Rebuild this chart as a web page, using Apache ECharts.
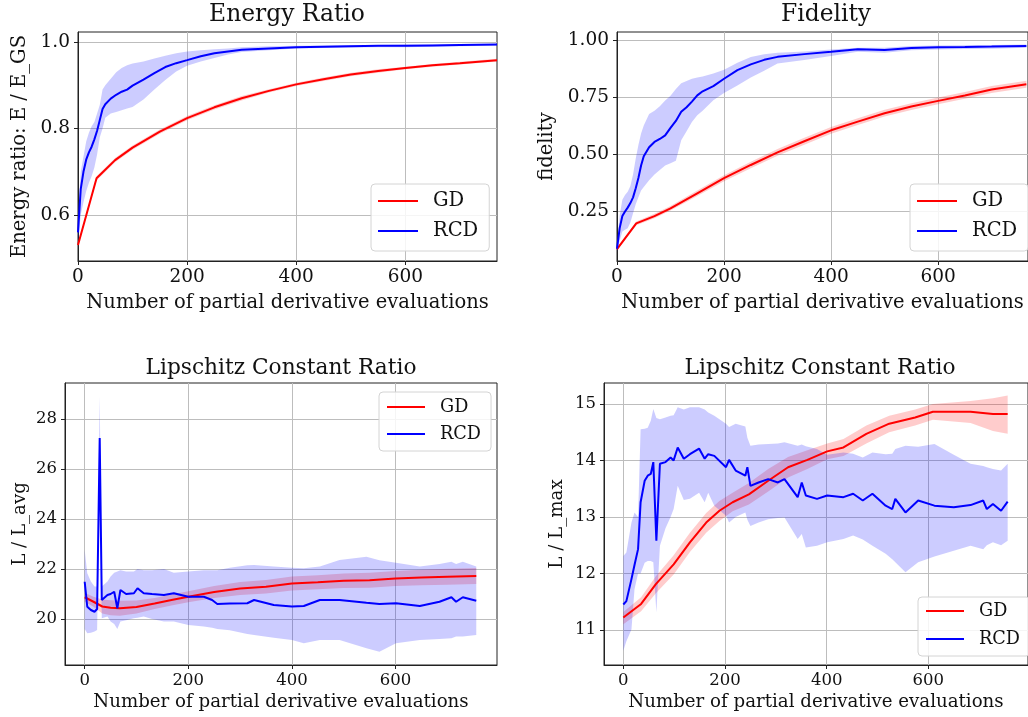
<!DOCTYPE html>
<html lang="en">
<head>
<meta charset="UTF-8">
<title>GD vs RCD</title>
<script src="https://cdn.jsdelivr.net/npm/echarts@6/dist/echarts.min.js"></script>
<style>
  html, body { margin: 0; padding: 0; background: #fff; }
  #chart { width: 1028px; height: 717px; }
</style>
</head>
<body>
<div id="chart"></div>
<script>
// ---- Energy ratio (top left)
var gdEnergyX = [0, 34, 68, 100, 150, 200, 250, 300, 350, 400, 450, 500, 550, 600, 650, 700, 768];
var gdEnergy = [0.531, 0.685, 0.727, 0.756, 0.793, 0.824, 0.849, 0.870, 0.887, 0.902, 0.914, 0.925, 0.933, 0.940, 0.946, 0.951, 0.958];
var gdEnergyErr = [0.003, 0.005, 0.005, 0.005, 0.005, 0.005, 0.005, 0.005, 0.004, 0.004, 0.004, 0.004, 0.004, 0.003, 0.003, 0.003, 0.003];

var rcdEnergyX = [0, 5, 10, 15, 20, 25, 30, 35, 40, 45, 50, 60, 70, 80, 90, 100, 120, 140, 160, 180, 200, 225, 250, 275, 300, 350, 400, 450, 500, 550, 600, 650, 700, 768];
var rcdEnergy = [0.56, 0.66, 0.70, 0.728, 0.745, 0.758, 0.775, 0.795, 0.82, 0.845, 0.856, 0.869, 0.878, 0.885, 0.890, 0.899, 0.913, 0.928, 0.942, 0.951, 0.958, 0.967, 0.974, 0.978, 0.982, 0.985, 0.988, 0.989, 0.990, 0.991, 0.991, 0.992, 0.993, 0.994];
var rcdEnergyHi = [0.60, 0.70, 0.735, 0.77, 0.79, 0.805, 0.815, 0.835, 0.855, 0.89, 0.900, 0.915, 0.930, 0.940, 0.946, 0.950, 0.955, 0.962, 0.968, 0.974, 0.978, 0.981, 0.983, 0.985, 0.988, 0.990, 0.991, 0.992, 0.993, 0.993, 0.994, 0.994, 0.995, 0.996];
var rcdEnergyLo = [0.53, 0.60, 0.63, 0.655, 0.675, 0.69, 0.71, 0.74, 0.78, 0.80, 0.825, 0.835, 0.838, 0.842, 0.846, 0.850, 0.867, 0.890, 0.912, 0.932, 0.945, 0.955, 0.963, 0.971, 0.977, 0.981, 0.985, 0.986, 0.987, 0.988, 0.988, 0.989, 0.990, 0.991];

// ---- Fidelity (top right)
var gdFidX = [0, 36, 70, 100, 150, 200, 250, 300, 350, 400, 450, 500, 550, 600, 650, 700, 765];
var gdFid = [0.083, 0.196, 0.228, 0.262, 0.328, 0.394, 0.452, 0.507, 0.556, 0.604, 0.642, 0.679, 0.708, 0.733, 0.757, 0.783, 0.806];
var gdFidErr = [0.006, 0.008, 0.01, 0.01, 0.012, 0.013, 0.014, 0.015, 0.015, 0.015, 0.015, 0.015, 0.015, 0.015, 0.015, 0.015, 0.015];

var rcdFidX = [0, 5, 10, 15, 20, 25, 30, 35, 40, 45, 50, 60, 70, 80, 90, 100, 110, 120, 130, 140, 150, 160, 180, 200, 225, 250, 275, 300, 350, 400, 450, 500, 550, 600, 650, 700, 765];
var rcdFid = [0.085, 0.175, 0.228, 0.248, 0.265, 0.285, 0.31, 0.35, 0.395, 0.45, 0.49, 0.53, 0.553, 0.566, 0.582, 0.615, 0.645, 0.685, 0.705, 0.730, 0.757, 0.775, 0.798, 0.83, 0.868, 0.893, 0.913, 0.926, 0.938, 0.948, 0.959, 0.956, 0.965, 0.968, 0.969, 0.971, 0.974];
var rcdFidHi = [0.10, 0.23, 0.30, 0.32, 0.335, 0.36, 0.41, 0.48, 0.54, 0.59, 0.625, 0.675, 0.69, 0.71, 0.735, 0.755, 0.785, 0.81, 0.82, 0.83, 0.835, 0.84, 0.853, 0.87, 0.90, 0.925, 0.937, 0.944, 0.950, 0.958, 0.966, 0.966, 0.974, 0.976, 0.977, 0.978, 0.98];
var rcdFidLo = [0.07, 0.12, 0.16, 0.168, 0.175, 0.20, 0.24, 0.28, 0.31, 0.34, 0.355, 0.385, 0.41, 0.43, 0.45, 0.46, 0.47, 0.56, 0.60, 0.64, 0.67, 0.69, 0.736, 0.768, 0.80, 0.835, 0.865, 0.897, 0.912, 0.930, 0.948, 0.944, 0.955, 0.958, 0.96, 0.962, 0.966];

// ---- L / L_avg (bottom left)
var gdAvgX = [0, 17, 34, 50, 68, 100, 135, 170, 200, 250, 300, 350, 400, 450, 500, 550, 600, 650, 700, 756];
var gdAvg = [20.87, 20.69, 20.50, 20.45, 20.43, 20.48, 20.62, 20.77, 20.89, 21.08, 21.22, 21.29, 21.42, 21.47, 21.53, 21.55, 21.62, 21.66, 21.69, 21.72];
var gdAvgErr = [0.18, 0.2, 0.28, 0.3, 0.3, 0.26, 0.22, 0.22, 0.22, 0.24, 0.26, 0.27, 0.28, 0.28, 0.29, 0.3, 0.3, 0.31, 0.32, 0.32];

var rcdAvgX = [0, 5, 12, 19, 24, 29, 33, 44, 50, 57, 63, 69, 80, 95, 102, 114, 130, 153, 172, 200, 230, 246, 256, 280, 314, 327, 365, 400, 423, 454, 492, 544, 569, 601, 647, 685, 708, 717, 730, 756];
var rcdAvg = [21.49, 20.49, 20.36, 20.29, 20.40, 27.24, 20.76, 20.96, 21.0, 21.09, 20.43, 21.16, 21.0, 21.03, 21.23, 21.03, 21.0, 20.96, 21.03, 20.89, 20.89, 20.76, 20.60, 20.62, 20.63, 20.76, 20.56, 20.50, 20.52, 20.76, 20.76, 20.65, 20.60, 20.63, 20.52, 20.69, 20.87, 20.69, 20.87, 20.73];
var rcdAvgHi = [22.76, 21.83, 21.5, 21.3, 21.3, 28.92, 21.3, 21.5, 21.7, 21.85, 21.9, 21.95, 21.9, 21.9, 22.0, 21.95, 21.95, 22.0, 21.85, 21.9, 21.95, 21.95, 21.95, 22.05, 22.15, 22.16, 22.1, 22.05, 22.03, 22.1, 22.36, 22.49, 22.35, 22.25, 22.1, 22.2, 22.29, 22.2, 22.29, 22.1];
var rcdAvgLo = [19.6, 19.43, 19.45, 19.5, 19.56, 26.0, 20.03, 20.1, 19.9, 19.8, 19.6, 19.9, 19.95, 20.03, 20.05, 20.1, 20.0, 19.9, 19.9, 19.76, 19.7, 19.65, 19.6, 19.55, 19.4, 19.36, 19.25, 19.16, 19.03, 19.16, 19.16, 18.83, 18.69, 19.03, 19.16, 19.2, 19.23, 19.3, 19.3, 19.36];

// ---- L / L_max (bottom right)
var gdMaxX = [0, 35, 64, 99, 131, 163, 189, 215, 247, 285, 324, 362, 401, 433, 478, 523, 574, 609, 683, 727, 756];
var gdMax = [11.22, 11.46, 11.81, 12.16, 12.55, 12.90, 13.11, 13.26, 13.40, 13.64, 13.88, 14.01, 14.16, 14.23, 14.47, 14.65, 14.76, 14.86, 14.86, 14.82, 14.82];
var gdMaxHi = [11.32, 11.58, 11.95, 12.32, 12.72, 13.07, 13.28, 13.43, 13.6, 13.85, 14.06, 14.18, 14.30, 14.38, 14.62, 14.79, 14.90, 15.0, 15.05, 15.1, 15.15];
var gdMaxLo = [11.1, 11.33, 11.65, 11.98, 12.38, 12.72, 12.93, 13.1, 13.22, 13.45, 13.7, 13.85, 14.02, 14.08, 14.3, 14.5, 14.62, 14.72, 14.66, 14.52, 14.47];

var rcdMaxX = [0, 6, 16, 22, 29, 34, 42, 48, 54, 59, 65, 72, 83, 93, 99, 107, 119, 131, 149, 160, 167, 179, 202, 208, 221, 240, 244, 250, 266, 285, 304, 317, 343, 351, 359, 381, 401, 433, 452, 471, 490, 516, 529, 535, 555, 580, 612, 650, 683, 708, 715, 727, 743, 756];
var rcdMax = [11.45, 11.51, 11.9, 12.15, 12.43, 13.26, 13.64, 13.73, 13.76, 13.97, 12.58, 13.94, 13.97, 14.05, 14.0, 14.23, 14.03, 14.11, 14.21, 14.03, 14.11, 14.08, 13.88, 14.01, 13.82, 13.73, 13.88, 13.55, 13.61, 13.67, 13.61, 13.67, 13.35, 13.61, 13.38, 13.32, 13.38, 13.35, 13.41, 13.29, 13.41, 13.2, 13.14, 13.32, 13.08, 13.29, 13.2, 13.17, 13.21, 13.29, 13.14, 13.23, 13.11, 13.27];
var rcdMaxHi = [12.31, 12.37, 12.9, 13.08, 13.0, 14.55, 14.56, 14.58, 14.7, 14.91, 14.75, 14.73, 14.76, 14.79, 14.8, 14.94, 14.9, 14.94, 14.94, 14.9, 14.85, 14.79, 14.65, 14.59, 14.65, 14.6, 14.4, 14.26, 14.28, 14.29, 14.3, 14.32, 14.26, 14.28, 14.25, 14.2, 14.1, 14.14, 14.12, 14.05, 14.14, 14.11, 14.12, 14.2, 14.26, 14.24, 14.29, 14.1, 13.94, 13.9, 13.88, 13.85, 13.82, 13.94];
var rcdMaxLo = [10.63, 10.8, 11.01, 11.72, 12.0, 12.0, 12.19, 12.22, 12.22, 12.2, 11.31, 12.49, 12.8, 13.0, 13.14, 13.55, 13.3, 13.32, 13.43, 13.26, 13.43, 13.2, 13.02, 12.9, 13.0, 13.08, 12.95, 12.84, 12.9, 12.96, 12.98, 12.99, 12.61, 12.7, 12.46, 12.49, 12.55, 12.61, 12.67, 12.6, 12.49, 12.35, 12.25, 12.2, 12.02, 12.2, 12.3, 12.4, 12.49, 12.43, 12.5, 12.55, 12.5, 12.58];

// tick labels
var xTicks = [0, 200, 400, 600];
var energyTicks = [0.6, 0.8, 1.0];
var fidTicks = [0.25, 0.5, 0.75, 1.0];
var avgTicks = [20, 22, 24, 26, 28];
var maxTicks = [11, 12, 13, 14, 15];

var serif = 'DejaVu Serif';
var RED = '#ff0000', BLUE = '#0000ff';
var RED_BAND = 'rgba(255,0,0,0.2)', BLUE_BAND = 'rgba(0,0,255,0.2)';

function pairs(xs, ys) {
    return xs.map(function (x, i) { return [x, ys[i]]; });
}
function minus(ys, err) { return ys.map(function (y, i) { return y - err[i]; }); }
function plus(ys, err) { return ys.map(function (y, i) { return y + err[i]; }); }

// shaded band between lo and hi, one polygon through the axis scales
function band(idx, xs, lo, hi, color) {
    var rows = xs.map(function (x, i) { return [x, lo[i], hi[i]]; });
    return {
        type: 'custom', xAxisIndex: idx, yAxisIndex: idx, silent: true, z: 1,
        data: rows,
        encode: { x: 0, y: [1, 2] },
        renderItem: function (params, api) {
            if (params.dataIndex !== 0) return null;
            var top = rows.map(function (r) { return api.coord([r[0], r[2]]); });
            var bot = rows.map(function (r) { return api.coord([r[0], r[1]]); }).reverse();
            return { type: 'polygon', shape: { points: top.concat(bot) }, style: { fill: color } };
        }
    };
}

function line(idx, name, xs, ys, color) {
    return {
        type: 'line', name: name, xAxisIndex: idx, yAxisIndex: idx,
        data: pairs(xs, ys), symbol: 'none', showSymbol: false,
        lineStyle: { color: color, width: 2 }, itemStyle: { color: color }, z: 3
    };
}

function xAxis(idx, min, max, fs, gap) {
    return {
        type: 'value', gridIndex: idx, min: min, max: max,
        name: 'Number of partial derivative evaluations', nameLocation: 'middle', nameGap: gap,
        nameTextStyle: { fontFamily: serif, fontSize: fs.name, color: '#111' },
        axisLine: { show: true, onZero: false, lineStyle: { color: '#222' } },
        axisTick: { show: true, length: 4, customValues: xTicks, lineStyle: { color: '#222' } },
        axisLabel: { customValues: xTicks, margin: 7, fontFamily: serif, fontSize: fs.tick, color: '#111' },
        splitLine: { show: true, lineStyle: { color: '#bdbdbd', width: 1 } }
    };
}

function yAxis(idx, min, max, ticks, digits, name, fs, gap) {
    return {
        type: 'value', gridIndex: idx, min: min, max: max,
        name: name, nameLocation: 'middle', nameGap: gap,
        nameTextStyle: { fontFamily: serif, fontSize: fs.name, color: '#111' },
        axisLine: { show: true, onZero: false, lineStyle: { color: '#222' } },
        axisTick: { show: true, length: 4, customValues: ticks, lineStyle: { color: '#222' } },
        axisLabel: {
            customValues: ticks, margin: 8, fontFamily: serif, fontSize: fs.tick, color: '#111',
            formatter: function (v) { return v.toFixed(digits); }
        },
        splitLine: { show: true, lineStyle: { color: '#bdbdbd', width: 1 } }
    };
}

function legend(left, top, fs, itemW, gap, pad) {
    return {
        left: left, top: top, orient: 'vertical', data: ['GD', 'RCD'],
        itemWidth: itemW, itemHeight: 14, itemGap: gap, padding: pad,
        itemStyle: { opacity: 0 },
        backgroundColor: 'rgba(255,255,255,0.85)', borderColor: '#d4d4d4', borderWidth: 1, borderRadius: 4,
        selectedMode: false,
        textStyle: { fontFamily: serif, fontSize: fs, color: '#111', padding: [0, 0, 0, 10] }
    };
}

function title(text, x, y, fs) {
    return {
        text: text, left: x, top: y, textAlign: 'center', padding: 0,
        textStyle: { fontFamily: serif, fontSize: fs, fontWeight: 'normal', color: '#111' }
    };
}

var big = { tick: 18.5, name: 19.5 };
var small = { tick: 16.5, name: 18.2 };

var chart = echarts.init(document.getElementById('chart'));
chart.setOption({
    animation: false,
    backgroundColor: '#fff',
    title: [
        title('Energy Ratio', 287, 3, 23.4),
        title('Fidelity', 826, 3, 23.4),
        title('Lipschitz Constant Ratio', 281, 357, 21.7),
        title('Lipschitz Constant Ratio', 820, 357, 21.7)
    ],
    grid: [
        { left: 78, top: 32, width: 419, height: 229 },
        { left: 617, top: 32, width: 419, height: 229 },
        { left: 65, top: 383, width: 432, height: 282 },
        { left: 604, top: 383, width: 432, height: 282 }
    ].map(function (g) {
        g.show = true; g.borderColor = '#222'; g.borderWidth = 1; g.containLabel = false;
        return g;
    }),
    xAxis: [
        xAxis(0, 0, 768, big, 32),
        xAxis(1, 0, 768, big, 32),
        xAxis(2, -38, 796, small, 28),
        xAxis(3, -38, 796, small, 28)
    ],
    yAxis: [
        yAxis(0, 0.494, 1.023, energyTicks, 1, 'Energy ratio: E / E_GS', big, 48),
        yAxis(1, 0.031, 1.035, fidTicks, 2, 'fidelity', big, 60),
        yAxis(2, 18.16, 29.44, avgTicks, 0, 'L / L_avg', small, 36),
        yAxis(3, 10.38, 15.37, maxTicks, 0, 'L / L_max', small, 38)
    ],
    legend: [
        legend(371, 184, 19.5, 40, 10, [7, 11, 10, 6]),
        legend(910, 184, 19.5, 40, 10, [7, 11, 10, 6]),
        legend(379, 392, 17.7, 38, 9, [6, 10, 8, 7]),
        legend(918, 597, 17.7, 38, 10, [5, 10, 8, 7])
    ],
    series: [
        band(0, gdEnergyX, minus(gdEnergy, gdEnergyErr), plus(gdEnergy, gdEnergyErr), RED_BAND),
        band(0, rcdEnergyX, rcdEnergyLo, rcdEnergyHi, BLUE_BAND),
        line(0, 'GD', gdEnergyX, gdEnergy, RED),
        line(0, 'RCD', rcdEnergyX, rcdEnergy, BLUE),

        band(1, gdFidX, minus(gdFid, gdFidErr), plus(gdFid, gdFidErr), RED_BAND),
        band(1, rcdFidX, rcdFidLo, rcdFidHi, BLUE_BAND),
        line(1, 'GD', gdFidX, gdFid, RED),
        line(1, 'RCD', rcdFidX, rcdFid, BLUE),

        band(2, gdAvgX, minus(gdAvg, gdAvgErr), plus(gdAvg, gdAvgErr), RED_BAND),
        band(2, rcdAvgX, rcdAvgLo, rcdAvgHi, BLUE_BAND),
        line(2, 'GD', gdAvgX, gdAvg, RED),
        line(2, 'RCD', rcdAvgX, rcdAvg, BLUE),

        band(3, gdMaxX, gdMaxLo, gdMaxHi, RED_BAND),
        band(3, rcdMaxX, rcdMaxLo, rcdMaxHi, BLUE_BAND),
        line(3, 'GD', gdMaxX, gdMax, RED),
        line(3, 'RCD', rcdMaxX, rcdMax, BLUE)
    ]
});
</script>
</body>
</html>
